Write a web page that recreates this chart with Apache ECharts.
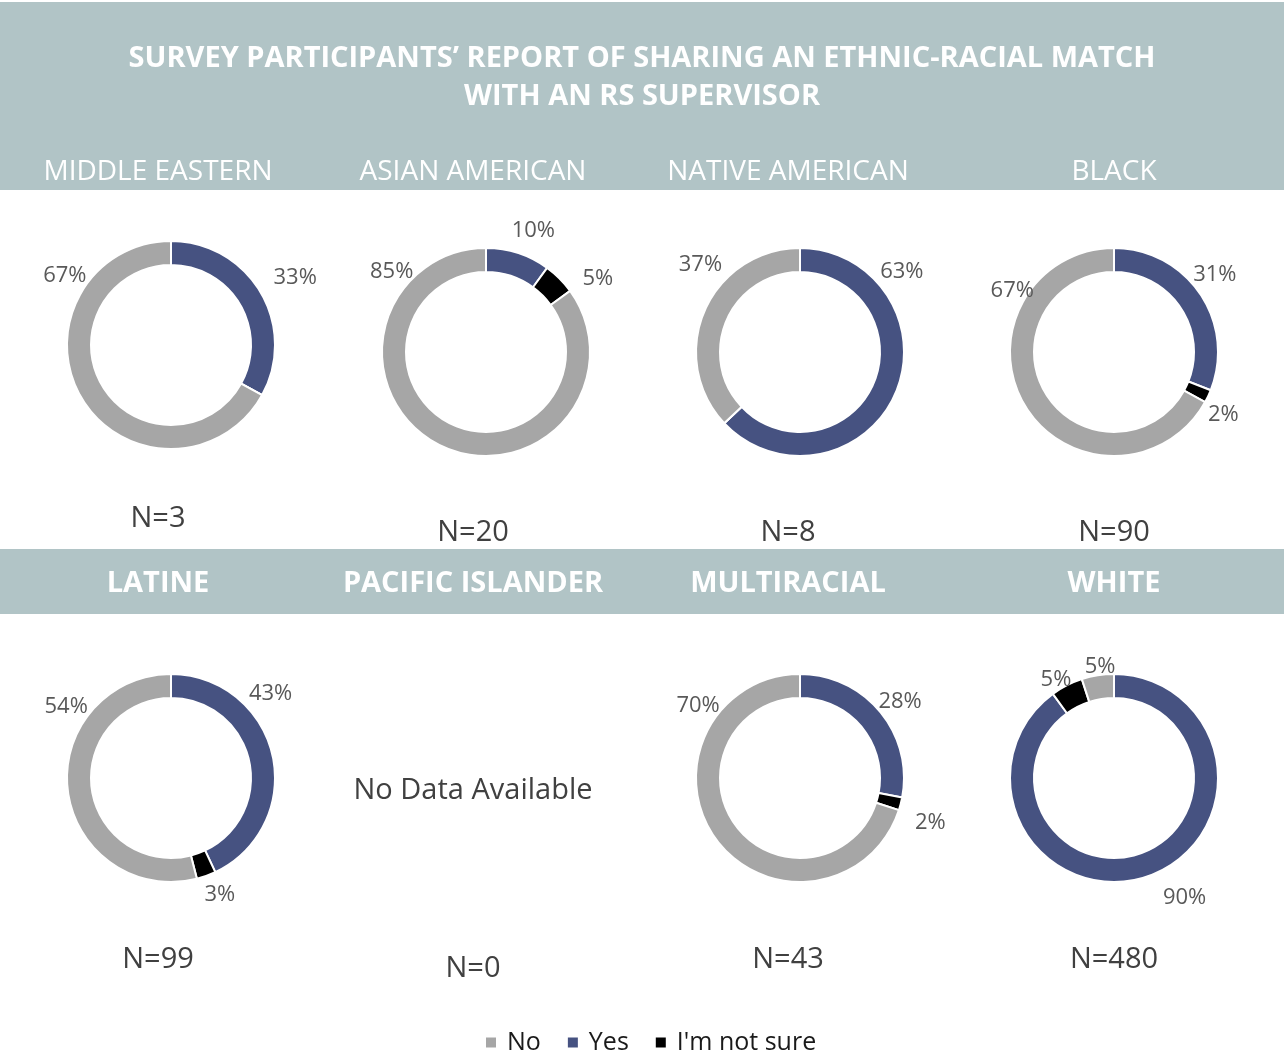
<!DOCTYPE html>
<html>
<head>
<meta charset="utf-8">
<script src="https://cdn.jsdelivr.net/npm/echarts@6/dist/echarts.min.js"></script>
<style>
  html, body { margin: 0; padding: 0; background: #fff; }
  #chart-container { width: 1284px; height: 1057px; }
</style>
</head>
<body>
<div id="chart-container"></div>
<script>
// data (percent of respondents)
var groups = ['MIDDLE EASTERN', 'ASIAN AMERICAN', 'NATIVE AMERICAN', 'BLACK',
              'LATINE', 'PACIFIC ISLANDER', 'MULTIRACIAL', 'WHITE'];
var nValues = [3, 20, 8, 90, 99, 0, 43, 480];
var answers = ['Yes', "I'm not sure", 'No'];
var yesValues = [33, 10, 63, 31, 43, null, 28, 90];
var notSureValues = [0, 5, 0, 2, 3, null, 2, 5];
var noValues = [67, 85, 37, 67, 54, null, 70, 5];
var legendOrder = ['No', 'Yes', "I'm not sure"];

// where each percent label sits (degrees clockwise from 12 o'clock): yes, not sure, no
var labelAngles = [
  [61, 0, 304], [21, 56, 311], [51, 0, 312], [52, 119, 302],
  [49, 157, 305], null, [52, 108, 306], [149, 330, 353]
];
var labelDist = [
  [142, 0, 128], [132, 135, 125], [131, 0, 134], [128, 125, 120],
  [132, 125, 128], null, [127, 137, 126], [137, 116, 114]
];

var navy = '#465281', gray = '#a6a6a6', band = '#b1c4c6';
var font = '"Open Sans", "Noto Sans", sans-serif';

var colX = [158, 473, 788, 1114];
var pieX = [171, 486, 800, 1114];
var pieY = [[345, 352, 352, 352], [778, 778, 778, 778]];
var nY = [[519, 533, 533, 533], [960, 969, 960, 960]];
var headY = [172, 584];

var dom = document.getElementById('chart-container');
var myChart = echarts.init(dom, null, { renderer: 'canvas' });

var graphics = [
  { type: 'rect', shape: { x: 0, y: 2, width: 1284, height: 188 }, style: { fill: band }, z: -1 },
  { type: 'rect', shape: { x: 0, y: 549, width: 1284, height: 65 }, style: { fill: band }, z: -1 },
  { type: 'text', style: { text: 'SURVEY PARTICIPANTS\u2019 REPORT OF SHARING AN ETHNIC-RACIAL MATCH', x: 642, y: 59,
      fill: '#fff', font: 'bold 29px ' + font, textAlign: 'center', textVerticalAlign: 'middle' } },
  { type: 'text', style: { text: 'WITH AN RS SUPERVISOR', x: 642, y: 97,
      fill: '#fff', font: 'bold 29px ' + font, textAlign: 'center', textVerticalAlign: 'middle' } },
  { type: 'text', style: { text: 'No Data Available', x: 473, y: 791,
      fill: '#404040', font: '29px ' + font, textAlign: 'center', textVerticalAlign: 'middle' } }
];

function makeLabelLayout(cx, cy, angles, dist) {
  return function (params) {
    var a = angles[params.dataIndex] * Math.PI / 180;
    var d = dist[params.dataIndex];
    return {
      x: cx + d * Math.sin(a),
      y: cy - d * Math.cos(a) + 2,
      align: 'center',
      verticalAlign: 'middle'
    };
  };
}

var series = [];
groups.forEach(function (g, i) {
  var row = i < 4 ? 0 : 1;
  var col = i % 4;
  graphics.push({ type: 'text', style: { text: g, x: colX[col], y: headY[row],
      fill: '#fff', font: (row ? 'bold 29px ' : '28px ') + font, textAlign: 'center', textVerticalAlign: 'middle' } });
  graphics.push({ type: 'text', style: { text: 'N=' + nValues[i], x: colX[col], y: nY[row][col],
      fill: '#404040', font: '29px ' + font, textAlign: 'center', textVerticalAlign: 'middle' } });
  if (yesValues[i] == null) return;
  var vals = [yesValues[i], notSureValues[i], noValues[i]];
  var cx = pieX[col], cy = pieY[row][col];
  series.push({
    name: g,
    type: 'pie',
    center: [cx, cy],
    radius: [80, 104],
    startAngle: 90,
    clockwise: true,
    avoidLabelOverlap: false,
    color: [navy, '#000000', gray],
    itemStyle: { borderColor: '#fff', borderWidth: 2 },
    label: {
      show: true,
      formatter: function (p) { return p.value > 0 ? p.value + '%' : ''; },
      color: '#595959',
      fontFamily: font,
      fontSize: 22
    },
    labelLine: { show: false },
    labelLayout: makeLabelLayout(cx, cy, labelAngles[i], labelDist[i]),
    emphasis: { disabled: true },
    data: answers.map(function (a, k) { return { name: a, value: vals[k] }; })
  });
});

var option = {
  animation: false,
  legend: {
    data: legendOrder,
    left: 484,
    top: 1030,
    padding: 0,
    icon: 'rect',
    itemWidth: 12,
    itemHeight: 12,
    itemGap: 25,
    selectedMode: false,
    textStyle: { fontSize: 25, color: '#1a1a1a', fontFamily: font, padding: [0, 0, 0, 5] }
  },
  graphic: graphics,
  series: series
};

if (option && typeof option === 'object') {
  myChart.setOption(option);
}

window.addEventListener('resize', myChart.resize);
</script>
</body>
</html>
